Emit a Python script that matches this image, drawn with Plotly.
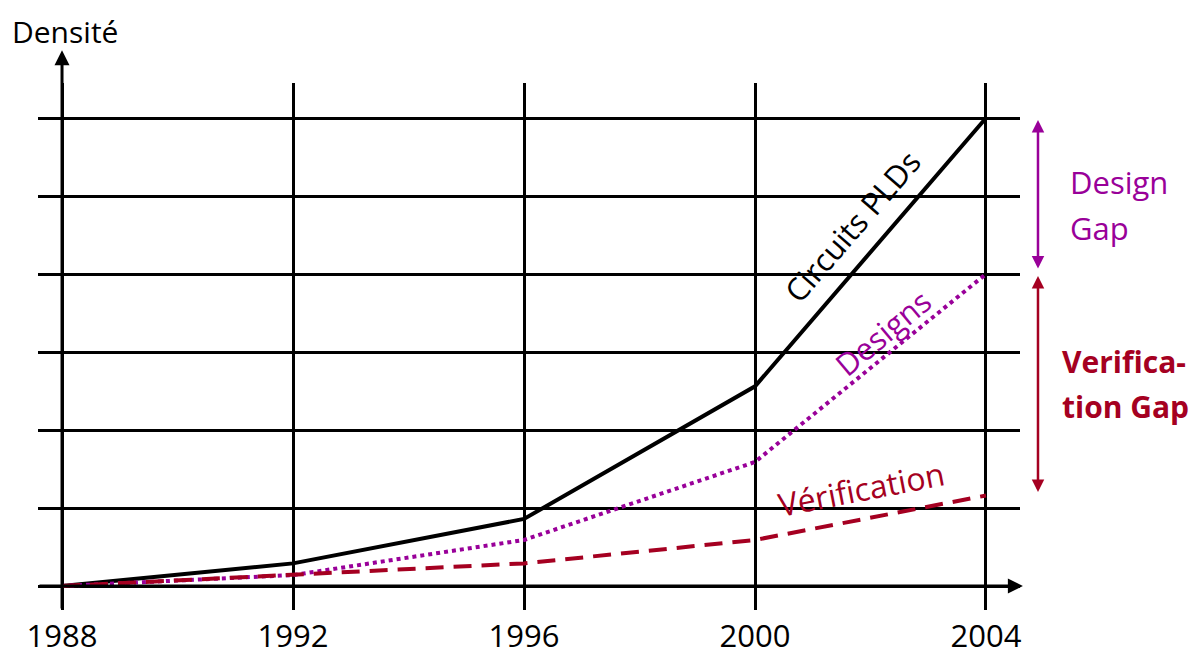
import plotly.graph_objects as go

years = [1988, 1992, 1996, 2000, 2004]
circuits = [0, 0.29, 0.86, 2.56, 6.0]
designs = [0, 0.14, 0.59, 1.59, 4.0]
verification = [0, 0.14, 0.29, 0.59, 1.16]
ytick_vals = [0, 1, 2, 3, 4, 5, 6]

BLACK = "#000000"
PURPLE = "#990099"
CRIMSON = "#A50021"
FONT = "Open Sans"

x_lo, x_hi = 1987.584, 2004.589
y_lo, y_hi = -0.3077, 6.449

fig = go.Figure()
fig.add_trace(go.Scatter(x=years, y=circuits, mode="lines",
                         line=dict(color=BLACK, width=4), name="Circuits PLDs"))
fig.add_trace(go.Scatter(x=years, y=designs, mode="lines",
                         line=dict(color=PURPLE, width=4, dash="dot"), name="Designs"))
fig.add_trace(go.Scatter(x=years, y=verification, mode="lines",
                         line=dict(color=CRIMSON, width=4, dash="18px,10px"), name="Vérification"))

ann = []
# y axis arrow
ann.append(dict(x=years[0], y=6.87, ax=years[0], ay=y_lo, xref="x", yref="y",
                axref="x", ayref="y", text="", showarrow=True, arrowhead=2,
                arrowsize=1, arrowwidth=3, arrowcolor=BLACK))
# x axis arrow
ann.append(dict(x=x_hi + 0.05, y=0, ax=x_lo, ay=0, xref="x", yref="y",
                axref="x", ayref="y", text="", showarrow=True, arrowhead=2,
                arrowsize=1, arrowwidth=3, arrowcolor=BLACK))
# gap arrows
ann.append(dict(x=years[-1], y=circuits[-1], ax=years[-1], ay=designs[-1], xref="x", yref="y",
                axref="x", ayref="y", text="", showarrow=True, arrowhead=2, arrowside="end+start",
                arrowsize=1, arrowwidth=2.5, arrowcolor=PURPLE, xshift=52, standoff=2, startstandoff=4))
ann.append(dict(x=years[-1], y=designs[-1], ax=years[-1], ay=verification[-1], xref="x", yref="y",
                axref="x", ayref="y", text="", showarrow=True, arrowhead=2, arrowside="end+start",
                arrowsize=1, arrowwidth=2.5, arrowcolor=CRIMSON, xshift=52, standoff=2, startstandoff=2))

# series labels
ann.append(dict(x=2001.68, y=4.62, xref="x", yref="y", text="Circuits PLDs", showarrow=False,
                textangle=-49, font=dict(family=FONT, size=31, color=BLACK)))
ann.append(dict(x=2002.2, y=3.25, xref="x", yref="y", text="Designs", showarrow=False,
                textangle=-40, font=dict(family=FONT, size=31, color=PURPLE)))
ann.append(dict(x=2001.85, y=1.25, xref="x", yref="y", text="Vérification", showarrow=False,
                textangle=-11, font=dict(family=FONT, size=32, color=CRIMSON)))

# axis title
ann.append(dict(x=-0.0285, y=1.0975, xref="paper", yref="paper", text="Densité", showarrow=False,
                xanchor="left", yanchor="middle", font=dict(family=FONT, size=30, color=BLACK)))

# gap labels
for txt, yy in [("Design", 0.812), ("Gap", 0.725)]:
    ann.append(dict(x=1.0489, y=yy, xref="paper", yref="paper", text=txt, showarrow=False,
                    xanchor="left", yanchor="middle", font=dict(family=FONT, size=31, color=PURPLE)))
for txt, yy in [("<b>Verifica-</b>", 0.4706), ("<b>tion Gap</b>", 0.387)]:
    ann.append(dict(x=1.0407, y=yy, xref="paper", yref="paper", text=txt, showarrow=False,
                    xanchor="left", yanchor="middle", font=dict(family=FONT, size=30, color=CRIMSON)))

# page body has an 8px margin: figure is offset so the plot lands in place
fig.update_layout(
    width=1194, height=647,
    margin=dict(l=30, r=182, t=75, b=45),
    paper_bgcolor="white", plot_bgcolor="white",
    showlegend=False,
    annotations=ann,
    xaxis=dict(range=[x_lo, x_hi], tickvals=years, ticktext=[str(y) for y in years],
               showgrid=True, gridcolor=BLACK, gridwidth=3, zeroline=False, showline=False,
               ticks="", automargin=False, ticklabelstandoff=5,
               tickfont=dict(family=FONT, size=31, color=BLACK)),
    yaxis=dict(range=[y_lo, y_hi], tickvals=ytick_vals, showticklabels=False,
               showgrid=True, gridcolor=BLACK, gridwidth=3, zeroline=False, showline=False,
               ticks="", automargin=False),
)

fig.write_html("out.html")
